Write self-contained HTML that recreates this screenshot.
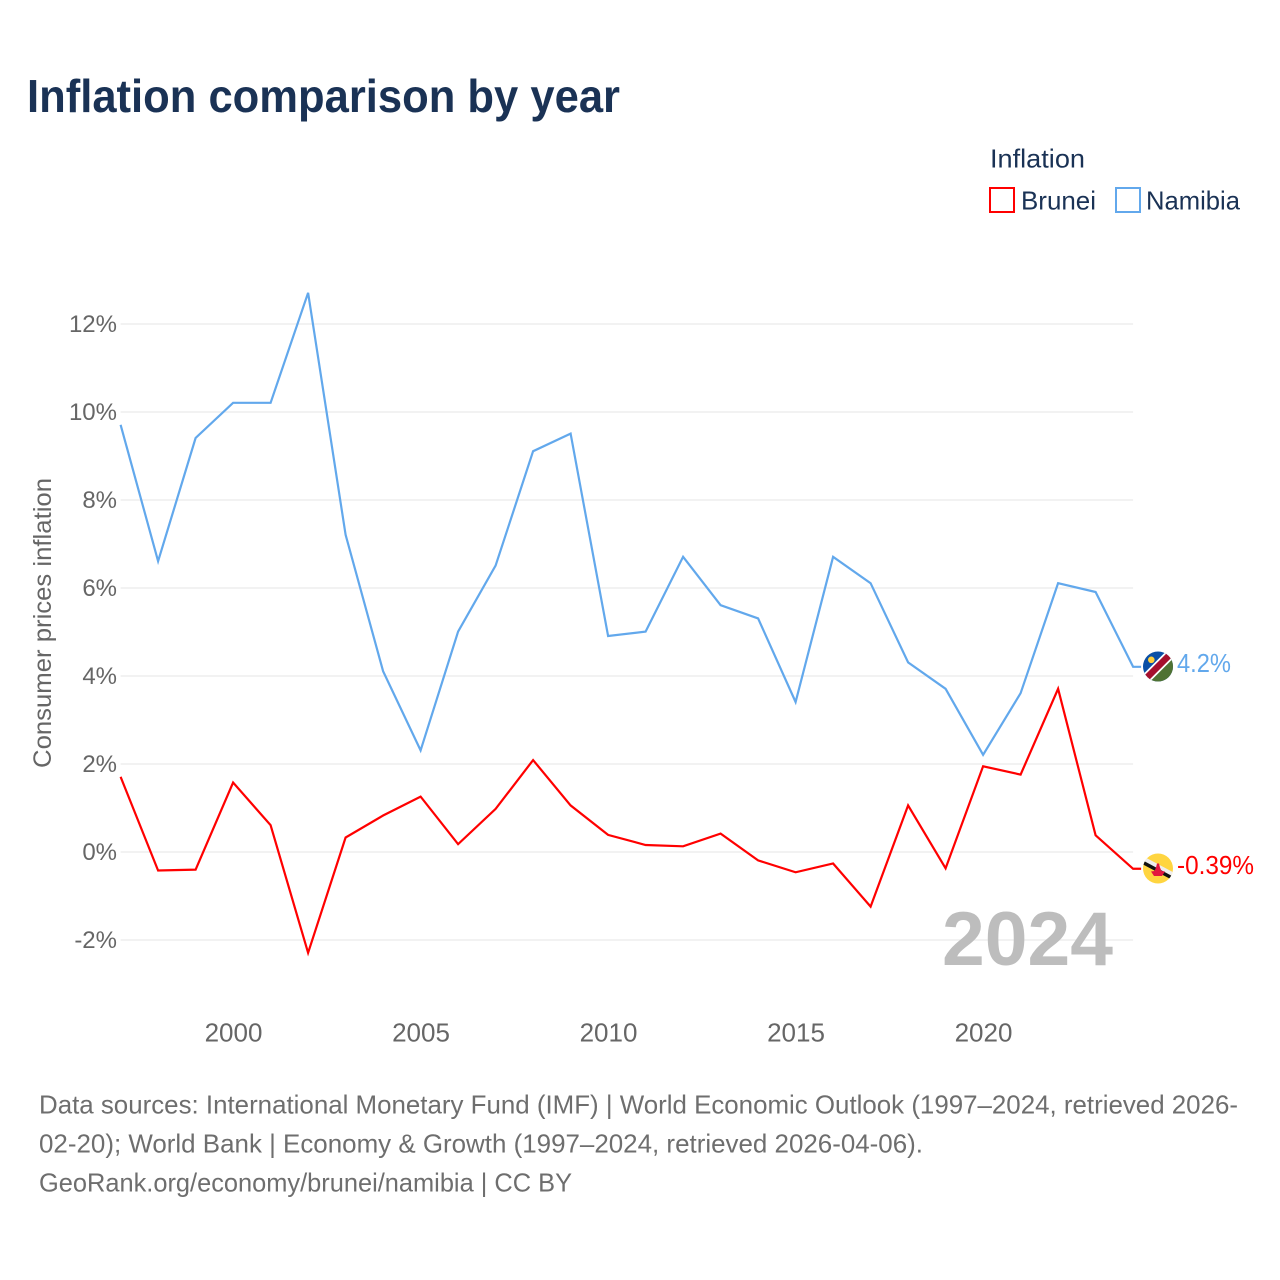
<!DOCTYPE html>
<html lang="en">
<head>
<meta charset="utf-8">
<title>Inflation comparison by year</title>
<style>
html,body{margin:0;padding:0;background:#fff}
svg{display:block}
text{font-family:"Liberation Sans",sans-serif}
</style>
</head>
<body>
<svg id="chart" xmlns="http://www.w3.org/2000/svg" width="1280" height="1280" viewBox="0 0 1280 1280">
  <defs>
    <clipPath id="flag-clip"><circle cx="0" cy="0" r="15"/></clipPath>
  </defs>
  <text x="27" y="112" font-size="46" font-weight="700" fill="#1a3255" textLength="593" lengthAdjust="spacingAndGlyphs">Inflation comparison by year</text>

  <g>
    <text x="990" y="167.5" font-size="26" fill="#1a3255" textLength="95" lengthAdjust="spacingAndGlyphs">Inflation</text>
    <rect x="990" y="188" width="24" height="24" fill="none" stroke="#ff0000" stroke-width="2"/>
    <text x="1021" y="209.5" font-size="26" fill="#1a3255" textLength="75" lengthAdjust="spacingAndGlyphs">Brunei</text>
    <rect x="1116" y="188" width="24" height="24" fill="none" stroke="#62a8ec" stroke-width="2"/>
    <text x="1146" y="209.5" font-size="26" fill="#1a3255" textLength="94" lengthAdjust="spacingAndGlyphs">Namibia</text>
  </g>

  <text transform="translate(51,623) rotate(-90)" text-anchor="middle" font-size="25" fill="#666666" textLength="290" lengthAdjust="spacingAndGlyphs">Consumer prices inflation</text>

  <g id="grid"></g>
  <g id="y-ticks"></g>
  <g id="x-ticks"></g>

  <text x="942" y="965" font-size="76" font-weight="700" fill="#bdbdbd" textLength="171" lengthAdjust="spacingAndGlyphs">2024</text>

  <g id="series"></g>

  <g id="flag-namibia">
    <g clip-path="url(#flag-clip)">
      <rect x="-16" y="-16" width="32" height="32" fill="#0a4fa6"/>
      <polygon points="-16,16 16,-16 16,16" fill="#4f7233"/>
      <line x1="-16" y1="16" x2="16" y2="-16" stroke="#ffffff" stroke-width="10"/>
      <line x1="-16" y1="16" x2="16" y2="-16" stroke="#a50f2d" stroke-width="6.5"/>
      <circle cx="-6.7" cy="-6.7" r="3.3" fill="#ffce3a"/>
    </g>
  </g>
  <g id="flag-brunei">
    <g clip-path="url(#flag-clip)">
      <rect x="-16" y="-16" width="32" height="32" fill="#ffd540"/>
      <line x1="-16" y1="-10" x2="16" y2="7" stroke="#eeeeee" stroke-width="5"/>
      <line x1="-16" y1="-6.5" x2="16" y2="10.5" stroke="#111111" stroke-width="3.5"/>
      <polygon points="-7,3 -3.5,2.5 -2,-1 -1,-5 1,-5 2,-1 3.5,2.5 7,3 4,7.5 -4,7.5" fill="#e3173e"/>
    </g>
  </g>
  <text id="label-namibia" x="1177" y="672" font-size="26" fill="#62a8ec" textLength="54" lengthAdjust="spacingAndGlyphs"></text>
  <text id="label-brunei" x="1177" y="874" font-size="26" fill="#ff0000" textLength="77" lengthAdjust="spacingAndGlyphs"></text>

  <g font-size="26" fill="#6e6e6e">
    <text x="39" y="1113.5" textLength="1199" lengthAdjust="spacingAndGlyphs">Data sources: International Monetary Fund (IMF) | World Economic Outlook (1997–2024, retrieved 2026-</text>
    <text x="39" y="1152.5" textLength="884" lengthAdjust="spacingAndGlyphs">02-20); World Bank | Economy &amp; Growth (1997–2024, retrieved 2026-04-06).</text>
    <text x="39" y="1191.5" textLength="533" lengthAdjust="spacingAndGlyphs">GeoRank.org/economy/brunei/namibia | CC BY</text>
  </g>
</svg>
<script>
const years = [1997,1998,1999,2000,2001,2002,2003,2004,2005,2006,2007,2008,2009,2010,2011,2012,2013,2014,2015,2016,2017,2018,2019,2020,2021,2022,2023,2024];
const namibia = [9.7,6.6,9.4,10.2,10.2,12.7,7.2,4.1,2.3,5.0,6.5,9.1,9.5,4.9,5.0,6.7,5.6,5.3,3.4,6.7,6.1,4.3,3.7,2.2,3.6,6.1,5.9,4.2];
const brunei = [1.7,-0.43,-0.41,1.57,0.6,-2.3,0.32,0.82,1.25,0.17,0.97,2.08,1.05,0.38,0.15,0.12,0.41,-0.2,-0.47,-0.27,-1.25,1.05,-0.38,1.94,1.75,3.7,0.37,-0.39];
const yTickValues = [-2,0,2,4,6,8,10,12];
const xTickValues = [2000,2005,2010,2015,2020];

const NS = 'http://www.w3.org/2000/svg';
const x = year => 120.6 + (year - 1997) * 37.5;
const y = value => 852 - value * 44;
const plotLeft = x(years[0]);
const plotRight = x(years[years.length - 1]);

function make(tag, parent) {
  const el = document.createElementNS(NS, tag);
  parent.appendChild(el);
  return el;
}

const grid = document.getElementById('grid');
const yTicks = document.getElementById('y-ticks');
yTickValues.forEach(v => {
  const line = make('line', grid);
  
  
  line.setAttribute('x1', plotLeft);
  line.setAttribute('x2', plotRight);
  line.setAttribute('y1', y(v));
  line.setAttribute('y2', y(v));
  line.setAttribute('stroke', '#ebebeb');
  line.setAttribute('stroke-width', '1.2');
  const t = make('text', yTicks);
  
  
  t.setAttribute('x', 117);
  t.setAttribute('y', y(v) + 8);
  t.setAttribute('text-anchor', 'end');
  t.setAttribute('font-size', '24');
  t.setAttribute('fill', '#666666');
  t.textContent = v + '%';
});

const xTicks = document.getElementById('x-ticks');
xTickValues.forEach(v => {
  const t = make('text', xTicks);
  
  
  t.setAttribute('x', x(v) + 0.4);
  t.setAttribute('y', 1041.5);
  t.setAttribute('text-anchor', 'middle');
  t.setAttribute('font-size', '26');
  t.setAttribute('fill', '#666666');
  t.textContent = v;
});

const seriesGroup = document.getElementById('series');
function drawLine(values, color) {
  const pts = values.map((v, i) => x(years[i]) + ',' + (y(v) - 0.4));
  pts.push((plotRight + 8) + ',' + (y(values[values.length - 1]) - 0.4));
  const line = make('polyline', seriesGroup);
  
  
  line.setAttribute('points', pts.join(' '));
  line.setAttribute('fill', 'none');
  line.setAttribute('stroke', color);
  line.setAttribute('stroke-width', '2.2');
  line.setAttribute('stroke-linejoin', 'miter');
}
drawLine(brunei, '#ff0000');
drawLine(namibia, '#62a8ec');

const lastN = namibia[namibia.length - 1];
const lastB = brunei[brunei.length - 1];
document.getElementById('flag-namibia').setAttribute('transform', 'translate(1158,' + (y(lastN) - 0.7) + ')');
document.getElementById('flag-brunei').setAttribute('transform', 'translate(1158,' + (y(lastB) - 0.7) + ')');
const labelN = document.getElementById('label-namibia');
labelN.setAttribute('y', y(lastN) + 5);
labelN.textContent = lastN + '%';
const labelB = document.getElementById('label-brunei');
labelB.setAttribute('y', y(lastB) + 5);
labelB.textContent = lastB + '%';
</script>
</body>
</html>
